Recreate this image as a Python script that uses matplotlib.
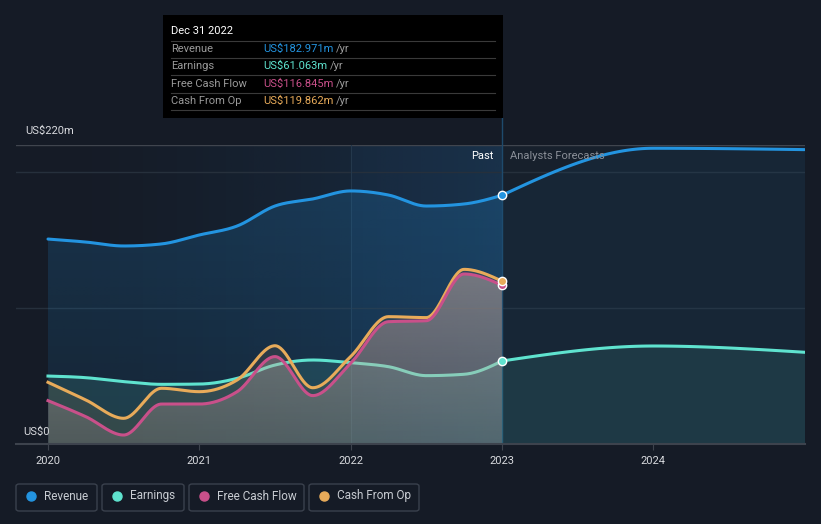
import numpy as np
import matplotlib
matplotlib.use("Agg")
import matplotlib.pyplot as plt
from matplotlib.patches import FancyBboxPatch, Rectangle
from matplotlib.colors import to_rgb

plt.rcParams['font.family'] = ['Roboto', 'DejaVu Sans']

# ---------------- data (US$ millions) ----------------
past_x = [2020.0, 2020.25, 2020.5, 2020.75, 2021.0, 2021.25, 2021.5, 2021.75,
          2022.0, 2022.25, 2022.5, 2022.75, 2023.0]
revenue = [150.8, 148.6, 145.7, 147.2, 153.8, 160.4, 175.1, 180.3,
           186.2, 183.2, 175.1, 176.6, 182.971]
earnings = [50.0, 48.8, 45.9, 43.9, 44.1, 48.3, 58.1, 61.8,
            59.8, 56.9, 50.3, 51.3, 61.063]
fcf = [31.9, 20.1, 6.6, 29.4, 29.4, 38.5, 64.3, 35.6,
       59.4, 90.0, 90.7, 125.1, 116.845]
cfo = [45.4, 32.4, 18.9, 41.0, 38.5, 47.1, 72.3, 41.4,
       64.3, 93.7, 93.0, 128.5, 119.862]

fc_x = [2023.0, 2024.0, 2025.0]
revenue_fc = [182.971, 217.6, 216.6]
earnings_fc = [61.063, 72.1, 67.5]

year_ticks = [2020, 2021, 2022, 2023, 2024]
series_names = ["Revenue", "Earnings", "Free Cash Flow", "Cash From Op"]
tooltip_values = ["US$182.971m", "US$61.063m", "US$116.845m", "US$119.862m"]

# ---------------- style ----------------
BG = '#151b26'
C_REV = '#2394e0'
C_EARN = '#5fe3cf'
C_FCF = '#c9508a'
C_CFO = '#e8ab5a'


def monotone(xs, ys, n=40):
    """d3-style monotone cubic interpolation, used only to draw smooth curves."""
    xs = np.asarray(xs, float)
    ys = np.asarray(ys, float)
    h = np.diff(xs)
    s = np.diff(ys) / h
    m = np.zeros_like(ys)
    for i in range(1, len(ys) - 1):
        if s[i - 1] * s[i] <= 0:
            m[i] = 0
        else:
            p = (s[i - 1] * h[i] + s[i] * h[i - 1]) / (h[i - 1] + h[i])
            m[i] = np.sign(p) * min(abs(s[i - 1]) * 2, abs(s[i]) * 2, abs(p))
    m[0] = (3 * s[0] - m[1]) / 2 if len(ys) > 2 else s[0]
    m[-1] = (3 * s[-1] - m[-2]) / 2 if len(ys) > 2 else s[-1]
    X, Y = [], []
    for i in range(len(xs) - 1):
        t = np.linspace(0, 1, n, endpoint=(i == len(xs) - 2))
        h00 = 2 * t**3 - 3 * t**2 + 1
        h10 = t**3 - 2 * t**2 + t
        h01 = -2 * t**3 + 3 * t**2
        h11 = t**3 - t**2
        X.append(xs[i] + t * h[i])
        Y.append(h00 * ys[i] + h10 * h[i] * m[i] + h01 * ys[i + 1] + h11 * h[i] * m[i + 1])
    return np.concatenate(X), np.concatenate(Y)


def gradient_fill(ax, x, y, color, a_bottom, a_top, ytop, z):
    poly = ax.fill_between(x, 0, y, color='none', lw=0, zorder=z)
    g = np.linspace(0, 1, 256)[:, None]
    rgba = np.zeros((256, 1, 4))
    rgba[..., :3] = to_rgb(color)
    rgba[..., 3] = a_bottom + (a_top - a_bottom) * g
    im = ax.imshow(rgba, extent=[x[0], x[-1], 0, ytop], origin='lower',
                   aspect='auto', zorder=z, interpolation='bilinear')
    im.set_clip_path(poly.get_paths()[0], transform=ax.transData)


W, H = 821, 524
fig = plt.figure(figsize=(W / 100, H / 100), dpi=100, facecolor=BG)
ax_l, ax_r, ax_t, ax_b = 16, 805, 145, 444
ax = fig.add_axes([ax_l / W, 1 - ax_b / H, (ax_r - ax_l) / W, (ax_b - ax_t) / H])
ax.set_facecolor(BG)
x0 = 2020 - 32 / 151.3
x1 = 2020 + (ax_r - 48) / 151.3

# past region gradient
grad = np.linspace(0, 1, 256)[None, :]
rgba = np.zeros((1, 256, 4))
rgba[..., :3] = to_rgb('#1f5585')
rgba[..., 3] = 0.0 + 0.32 * grad**1.4
ax.imshow(rgba, extent=[2020, 2023, 0, 220], aspect='auto', zorder=0.5,
          interpolation='bilinear')
# hover highlight band
ax.add_patch(Rectangle((2022, 0), 1, 220, facecolor='#3a86c8', alpha=0.05,
                       edgecolor='none', zorder=0.6))
# forecast region
ax.add_patch(Rectangle((2023, 0), x1 - 2023, 220, facecolor='#17202c',
                       edgecolor='none', zorder=0.5))

# grid lines
for v, c in [(100, '#26303c'), (200, '#26303c'), (220, '#40454e')]:
    ax.axhline(v, color=c, lw=1, zorder=0.8)
ax.axvline(2022, color='#24384c', lw=0.8, zorder=0.9)

# revenue
rx, ry = monotone(past_x, revenue)
gradient_fill(ax, rx, ry, C_REV, 0.08, 0.2, 190, 1)
ax.plot(rx, ry, color=C_REV, lw=2.2, zorder=5, solid_capstyle='round')
fx, fy = monotone(fc_x, revenue_fc)
ax.fill_between(fx, 0, fy, color=C_REV, alpha=0.06, lw=0, zorder=1)
ax.plot(fx, fy, color=C_REV, lw=2.2, zorder=5, solid_capstyle='round')

# earnings
ex, ey = monotone(past_x, earnings)
ax.fill_between(ex, 0, ey, color=C_EARN, alpha=0.13, lw=0, zorder=2)
ax.plot(ex, ey, color=C_EARN, lw=2.2, zorder=2.5)
efx, efy = monotone(fc_x, earnings_fc)
ax.fill_between(efx, 0, efy, color=C_EARN, alpha=0.1, lw=0, zorder=2)
ax.plot(efx, efy, color=C_EARN, lw=2.2, zorder=5)

# free cash flow & cash from op
px, py = monotone(past_x, fcf)
cx, cy = monotone(past_x, cfo)
ax.fill_between(cx, 0, cy, color=C_CFO, alpha=0.1, lw=0, zorder=3)
gradient_fill(ax, px, py, '#c4aaa6', 0.2, 0.48, 130, 3.1)
ax.plot(cx, cy, color=C_CFO, lw=2.2, zorder=4)
ax.plot(px, py, color=C_FCF, lw=2.2, zorder=4.1)

ax.set_xlim(x0, x1)
ax.set_ylim(0, 220)

# present line
ax.plot([2023, 2023], [0, 220 * (ax_b - 118) / (ax_b - ax_t)], color='#1e4a6c',
        lw=1, zorder=0.95, clip_on=False)

# end markers
for val, col, z in [(revenue[-1], C_REV, 6), (earnings[-1], C_EARN, 6),
                    (fcf[-1], C_FCF, 6), (cfo[-1], C_CFO, 6.1)]:
    ax.scatter([2023], [val], s=36, color=col, edgecolor='white', lw=1, zorder=z)

# axes styling
for sp in ax.spines.values():
    sp.set_visible(False)
ax.axhline(0, color='#3d434d', lw=1.5, zorder=7, clip_on=False)
ax.set_yticks([])
ax.set_xticks(year_ticks)
ax.set_xticklabels([str(y) for y in year_ticks], color='#d8dade', fontsize=8)
ax.tick_params(axis='x', length=4, color='#3d434d', pad=5)

# y labels
fig.text(25 / W, 1 - 131 / H, "US$220m", color='#d8dade', fontsize=8, va='center')
fig.text(23 / W, 1 - 432 / H, "US$0", color='#d8dade', fontsize=8, va='center')
fig.text(493 / W, 1 - 156 / H, "Past", color='white', fontsize=8, va='center', ha='right')
fig.text(510 / W, 1 - 156 / H, "Analysts Forecasts", color='#8a8f98', fontsize=8, va='center')

# tooltip
fig.patches.append(Rectangle((163 / W, 1 - 118 / H), (503 - 163) / W, (118 - 15) / H,
                             transform=fig.transFigure, facecolor='black',
                             edgecolor='none', zorder=10))
fig.text(171 / W, 1 - 31 / H, "Dec 31 2022", color='white', fontsize=8, va='center', zorder=11)
row_y = [49, 66, 84, 101]
cols = [C_REV, C_EARN, C_FCF, C_CFO]
for yy in [41, 58, 75, 93, 110]:
    fig.add_artist(plt.Line2D([171 / W, 495 / W], [1 - yy / H, 1 - yy / H],
                              color='#3a3a3a', lw=0.8, zorder=11))
for name, val, col, yy in zip(series_names, tooltip_values, cols, row_y):
    fig.text(171 / W, 1 - yy / H, name, color='#9a9a9a', fontsize=8, va='center', zorder=11)
    t = fig.text(263 / W, 1 - yy / H, val, color=col, fontsize=8, va='center', zorder=11)
    fig.canvas.draw()
    bb = t.get_window_extent()
    fig.text(bb.x1 / W + 3 / W, 1 - yy / H, "/yr", color='#9a9a9a', fontsize=8,
             va='center', zorder=11)

# legend
boxes = [(16, 97), (102, 184), (189, 304), (309, 419)]
for (bx0, bx1), name, col in zip(boxes, series_names, cols):
    fig.patches.append(FancyBboxPatch((bx0 / W, 1 - 511 / H), (bx1 - bx0) / W, 27 / H,
                                      boxstyle='round,pad=0,rounding_size=0.004',
                                      transform=fig.transFigure, facecolor='none',
                                      edgecolor='#3a414d', lw=1))
    fig.add_artist(plt.Line2D([(bx0 + 15) / W], [1 - 496 / H], marker='o', markersize=6.5,
                              color=col, lw=0))
    fig.text((bx0 + 28) / W, 1 - 496 / H, name, color='#c8ccd2', fontsize=8.5, va='center')

fig.savefig('out.png', dpi=100, facecolor=BG)
